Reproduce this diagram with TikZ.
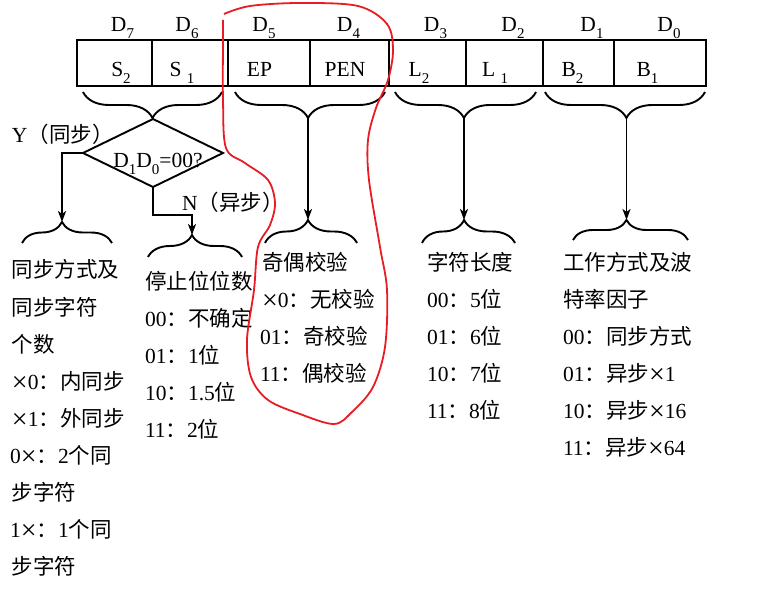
\documentclass[tikz,border=0pt]{standalone}
\usepackage{fontspec}
\setmainfont{Liberation Serif}
\newfontfamily\cjk{Noto Sans CJK SC}
\usetikzlibrary{shapes.geometric,decorations.pathreplacing,arrows.meta}
\newcommand\sbs[1]{\raisebox{-0.3em}{\fontsize{15}{15}\selectfont #1}}
\newcommand\zh[1]{{\cjk #1}}
\newcommand\tms{{\fontsize{28}{28}\selectfont\raisebox{-0.08em}{×}}}
\definecolor{loopred}{RGB}{232,28,36}
\begin{document}
\begin{tikzpicture}[x=1pt,y=-1pt,
  every node/.style={inner sep=0pt, outer sep=0pt, font=\fontsize{21.5}{25}\selectfont},
  ln/.style={line width=1.9pt, black},
  cell/.style={draw, ln, rectangle, minimum height=46pt},
  bdown/.style={ln, decorate, decoration={brace, mirror, amplitude=26pt, aspect=#1}},
  bup/.style={ln, decorate, decoration={brace, amplitude=22pt, aspect=#1}},
  arr/.style={ln, -{Stealth[length=11pt,width=8pt,inset=3pt]}},
  txt/.style={anchor=base west},
  lbl/.style={anchor=base}]
\useasboundingbox (0,0) rectangle (758,596);

% register cells
\node[cell, minimum width=75pt] (c7) at (114.5,63) {};
\node[cell, minimum width=76pt] (c6) at (190,63) {};
\node[cell, minimum width=82pt] (c5) at (269,63) {};
\node[cell, minimum width=79pt] (c4) at (349.5,63) {};
\node[cell, minimum width=77pt] (c3) at (427.5,63) {};
\node[cell, minimum width=77pt] (c2) at (504.5,63) {};
\node[cell, minimum width=71pt] (c1) at (578.5,63) {};
\node[cell, minimum width=92pt] (c0) at (660,63) {};

% bit labels
\node[lbl] (d7) at (122.5,32) {D\sbs{7}};
\node[lbl] (d6) at (187,32) {D\sbs{6}};
\node[lbl] (d5) at (264,32) {D\sbs{5}};
\node[lbl] (d4) at (348.5,32) {D\sbs{4}};
\node[lbl] (d3) at (435.5,32) {D\sbs{3}};
\node[lbl] (d2) at (513,32) {D\sbs{2}};
\node[lbl] (d1) at (592,32) {D\sbs{1}};
\node[lbl] (d0) at (669,32) {D\sbs{0}};

% cell contents
\node[lbl] (s2) at (121,77) {S\sbs{2}};
\node[lbl] (s1) at (182,77) {S \sbs{1}};
\node[lbl] (ep) at (259.5,77) {EP};
\node[lbl] (pen) at (345,77) {PEN};
\node[lbl] (l2) at (419,77) {L\sbs{2}};
\node[lbl] (l1) at (495,77) {L \sbs{1}};
\node[lbl] (b2) at (572.5,77) {B\sbs{2}};
\node[lbl] (b1) at (647.5,77) {B\sbs{1}};

% top braces
\draw[bdown=0.5] (83,92) -- (222,92);
\draw[bdown=0.489] (395,92) -- (536,92);
\draw[bdown=0.487] (235,92) -- (385,92);
\draw[bdown=0.509] (545,92) -- (705,92);
\coordinate (t2) at (308,118);
\coordinate (t3) at (464,118);
\coordinate (t4) at (626.5,118);

% decision diamond
\node[draw, ln, diamond, aspect=2.06, minimum width=140pt, minimum height=68pt] (dia) at (153,153) {};
\node[lbl] (q) at (158,168) {D\sbs{1}D\sbs{0}=00?};
\node[txt] (yl) at (12,143) {Y\zh{（同步）}};
\node[txt] (nl) at (182,211) {N\zh{（异步）}};

% bottom braces
\draw[bup=0.444, decoration={amplitude=21pt}] (22,243) -- (112,243);
\draw[bup=0.468] (148,257) -- (242,257);
\draw[bup=0.467, decoration={amplitude=23pt}] (265,243) -- (357,243);
\draw[bup=0.452, decoration={amplitude=23pt}] (422,243) -- (515,243);
\draw[bup=0.465, decoration={amplitude=20pt}] (573,240) -- (688,240);
\coordinate (u5) at (62,222);
\coordinate (u6) at (192,235);
\coordinate (u7) at (308,220);
\coordinate (u8) at (464,220);
\coordinate (u9) at (626.5,220);

% connectors
\draw[arr] (dia.west) -| (u5);
\draw[arr] (dia.south) -- (153,215) -| (u6);
\draw[arr] (t2) -- (u7);
\draw[arr] (t3) -- (u8);
\draw[arr] (t4) -- (u9);

% column 1
\node[txt] (a1) at (12,278) {\zh{同步方式及}};
\node[txt] (a2) at (12,315) {\zh{同步字符}};
\node[txt] (a3) at (12,352) {\zh{个数}};
\node[txt] (a4) at (12,389) {\tms0\zh{：内同步}};
\node[txt] (a5) at (12,426) {\tms1\zh{：外同步}};
\node[txt] (a6) at (10,463) {0\tms\zh{：}2\zh{个同}};
\node[txt] (a7) at (12,500) {\zh{步字符}};
\node[txt] (a8) at (10,537) {1\tms\zh{：}1\zh{个同}};
\node[txt] (a9) at (12,574) {\zh{步字符}};

% column 2
\node[txt] (e1) at (145,290) {\zh{停止位位数}};
\node[txt] (e2) at (145,326) {00\zh{：不确定}};
\node[txt] (e3) at (145,363) {01\zh{：}1\zh{位}};
\node[txt] (e4) at (145,400) {10\zh{：}1.5\zh{位}};
\node[txt] (e5) at (145,437) {11\zh{：}2\zh{位}};

% column 3
\node[txt] (p1) at (262,270) {\zh{奇偶校验}};
\node[txt] (p2) at (262,307) {\tms0\zh{：无校验}};
\node[txt] (p3) at (260,344) {01\zh{：奇校验}};
\node[txt] (p4) at (260,381) {11\zh{：偶校验}};

% column 4
\node[txt] (l1t) at (427,270) {\zh{字符长度}};
\node[txt] (l2t) at (427,307) {00\zh{：}5\zh{位}};
\node[txt] (l3t) at (427,344) {01\zh{：}6\zh{位}};
\node[txt] (l4t) at (427,381) {10\zh{：}7\zh{位}};
\node[txt] (l5t) at (427,418) {11\zh{：}8\zh{位}};

% column 5
\node[txt] (w1) at (563,270) {\zh{工作方式及波}};
\node[txt] (w2) at (563,307) {\zh{特率因子}};
\node[txt] (w3) at (563,344) {00\zh{：同步方式}};
\node[txt] (w4) at (563,381) {01\zh{：异步}\tms1};
\node[txt] (w5) at (563,418) {10\zh{：异步}\tms16};
\node[txt] (w6) at (563,455) {11\zh{：异步}\tms64};

% red freehand loop
\draw[loopred, line width=1.8pt, line join=round] plot[smooth, tension=0.55] coordinates {
 (224,14) (250,6) (300,3) (358,6) (387,24) (393,50) (388,80) (376,108) (368,140)
 (369,180) (380,247) (387,290) (385,347) (373,387) (352,412) (334,424) (300,414)
 (268,400) (251,377) (247,340) (254,290) (258,247) (270,225) (275,203) (268,180)
 (245,163) (226,148) (223,100) (223,40) (223,20)};
\end{tikzpicture}
\end{document}
